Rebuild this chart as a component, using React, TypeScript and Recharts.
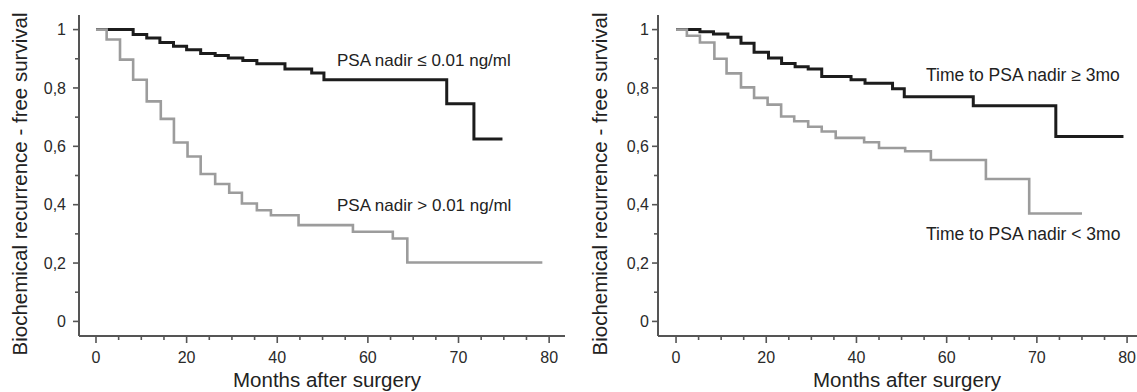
import React from 'react';
import { LineChart, Line, XAxis, YAxis } from 'recharts';

// ---- axis ticks ----
const xMajorTicks = [0, 20, 40, 60, 80, 100];
const xTickLabels = ['0', '20', '40', '60', '70', '80'];
const xAllTicks = [0, 5, 10, 15, 20, 25, 30, 35, 40, 45, 50, 55, 60, 65, 70, 75, 80, 85, 90, 95, 100];
const yMajorTicks = [0, 0.2, 0.4, 0.6, 0.8, 1];
const yTickLabels = ['0', '0,2', '0,4', '0,6', '0,8', '1'];
const yAllTicks = [0, 0.1, 0.2, 0.3, 0.4, 0.5, 0.6, 0.7, 0.8, 0.9, 1];

// ---- left panel: PSA nadir ----
const leftLowTimes = [0, 8.2, 11.2, 14.1, 17.1, 20.0, 23.1, 26.3, 29.2, 32.4, 35.5, 41.7, 47.6, 50.3, 77.4, 83.4, 89.7];
const leftLowSurv = [1, 0.983, 0.971, 0.956, 0.943, 0.931, 0.918, 0.911, 0.903, 0.894, 0.883, 0.865, 0.851, 0.828, 0.746, 0.625, 0.625];
const leftHighTimes = [0, 2.35, 5.3, 8.2, 11.2, 14.3, 17.2, 20.2, 23.1, 26.3, 29.4, 32.2, 35.5, 38.6, 44.7, 56.7, 65.5, 68.7, 98.5];
const leftHighSurv = [1, 0.966, 0.897, 0.828, 0.754, 0.694, 0.613, 0.565, 0.505, 0.471, 0.441, 0.404, 0.381, 0.364, 0.33, 0.307, 0.284, 0.202, 0.202];

// ---- right panel: time to PSA nadir ----
const rightLongTimes = [0, 5.3, 8.3, 11.5, 14.4, 17.3, 20.5, 23.4, 26.4, 29.3, 32.3, 38.8, 41.9, 48.0, 50.6, 65.9, 84.2, 99.2];
const rightLongSurv = [1, 0.993, 0.985, 0.974, 0.953, 0.922, 0.903, 0.884, 0.873, 0.865, 0.839, 0.828, 0.816, 0.797, 0.77, 0.739, 0.634, 0.634];
const rightShortTimes = [0, 2.4, 5.3, 8.5, 11.2, 14.4, 17.3, 20.3, 23.3, 26.2, 29.3, 32.3, 35.4, 41.7, 45.0, 50.8, 56.5, 68.7, 78.3, 90.0];
const rightShortSurv = [1, 0.979, 0.956, 0.9, 0.85, 0.802, 0.766, 0.743, 0.702, 0.686, 0.667, 0.651, 0.629, 0.614, 0.594, 0.583, 0.553, 0.488, 0.37, 0.37];

const leftLabelLow = 'PSA nadir ≤ 0.01 ng/ml';
const leftLabelHigh = 'PSA nadir > 0.01 ng/ml';
const rightLabelLong = 'Time to PSA nadir ≥ 3mo';
const rightLabelShort = 'Time to PSA nadir < 3mo';
const yTitle = 'Biochemical recurrence - free survival';
const xTitle = 'Months after surgery';

const toData = (times: number[], surv: number[]) => times.map((t, i) => ({ t, s: surv[i] }));

const FONT = '"Liberation Sans", Arial, Helvetica, sans-serif';
const AXIS = '#555';

const near = (a: number, b: number) => Math.abs(a - b) < 1e-6;

const YTick = (props: any) => {
  const { x, y, payload, gap } = props;
  const idx = yMajorTicks.findIndex((m) => near(m, payload.value));
  const major = idx >= 0;
  return (
    <g>
      <line x1={x} x2={x - (major ? 6 : 4)} y1={y} y2={y} stroke={AXIS} strokeWidth={1.6} />
      {major && (
        <text x={x - gap} y={y} dy="0.36em" textAnchor="end" fontSize={16} fontFamily={FONT} fill="#2a2a2a">
          {yTickLabels[idx]}
        </text>
      )}
    </g>
  );
};

const XTick = (props: any) => {
  const { x, y, payload } = props;
  const idx = xMajorTicks.findIndex((m) => near(m, payload.value));
  const major = idx >= 0;
  return (
    <g>
      <line x1={x} x2={x} y1={y} y2={y + (major ? 7 : 4)} stroke={AXIS} strokeWidth={1.6} />
      {major && (
        <text x={x} y={y + 27} textAnchor="middle" fontSize={16} fontFamily={FONT} fill="#2a2a2a">
          {xTickLabels[idx]}
        </text>
      )}
    </g>
  );
};

type PanelProps = {
  left: number;
  width: number;
  yAxisWidth: number;
  rightMargin: number;
  xDomain: [number, number];
  labelGap: number;
  blackData: { t: number; s: number }[];
  greyData: { t: number; s: number }[];
};

const Panel = ({ left, width, yAxisWidth, rightMargin, xDomain, labelGap, blackData, greyData }: PanelProps) => (
  <div style={{ position: 'absolute', left, top: 0 }}>
    <LineChart width={width} height={392} margin={{ top: 15, right: rightMargin, bottom: 0, left: 0 }}>
      <XAxis
        type="number"
        dataKey="t"
        domain={xDomain}
        allowDataOverflow
        ticks={xAllTicks}
        interval={0}
        tickSize={0}
        tickMargin={0}
        tickLine={false}
        height={56}
        axisLine={{ stroke: AXIS, strokeWidth: 2 }}
        tick={(p: any) => <XTick {...p} />}
      />
      <YAxis
        type="number"
        dataKey="s"
        domain={[-0.05, 1.05]}
        allowDataOverflow
        ticks={yAllTicks}
        interval={0}
        tickSize={0}
        tickMargin={0}
        tickLine={false}
        width={yAxisWidth}
        axisLine={{ stroke: AXIS, strokeWidth: 2 }}
        tick={(p: any) => <YTick {...p} gap={labelGap} />}
      />
      <Line
        data={blackData}
        dataKey="s"
        type="stepAfter"
        stroke="#1c1c1c"
        strokeWidth={3}
        dot={false}
        activeDot={false}
        isAnimationActive={false}
      />
      <Line
        data={greyData}
        dataKey="s"
        type="stepAfter"
        stroke="#9c9c9c"
        strokeWidth={2.6}
        dot={false}
        activeDot={false}
        isAnimationActive={false}
      />
    </LineChart>
  </div>
);

export default function App() {
  return (
    <div style={{ position: 'absolute', left: 0, top: 0, width: 1137, height: 392, background: '#fff', overflow: 'hidden' }}>
      <Panel
        left={0}
        width={580}
        yAxisWidth={79}
        rightMargin={15}
        xDomain={[-3.75, 103.5]}
        labelGap={13}
        blackData={toData(leftLowTimes, leftLowSurv)}
        greyData={toData(leftHighTimes, leftHighSurv)}
      />
      <Panel
        left={570}
        width={567}
        yAxisWidth={88}
        rightMargin={0}
        xDomain={[-4, 102.2]}
        labelGap={9}
        blackData={toData(rightLongTimes, rightLongSurv)}
        greyData={toData(rightShortTimes, rightShortSurv)}
      />
      <svg width={1137} height={392} style={{ position: 'absolute', left: 0, top: 0, pointerEvents: 'none' }}>
        <g fontFamily={FONT} fill="#222">
          <text x={337} y={66} fontSize={17}>{leftLabelLow}</text>
          <text x={337} y={211} fontSize={17}>{leftLabelHigh}</text>
          <text x={926} y={81} fontSize={17.5}>{rightLabelLong}</text>
          <text x={926} y={240} fontSize={17.5}>{rightLabelShort}</text>
          <text x={327} y={387} fontSize={20.5} textAnchor="middle">{xTitle}</text>
          <text x={907} y={387} fontSize={20.5} textAnchor="middle">{xTitle}</text>
          <text transform="translate(27,184) rotate(-90)" fontSize={20.5} textAnchor="middle">{yTitle}</text>
          <text transform="translate(607,184) rotate(-90)" fontSize={20.5} textAnchor="middle">{yTitle}</text>
        </g>
      </svg>
    </div>
  );
}
